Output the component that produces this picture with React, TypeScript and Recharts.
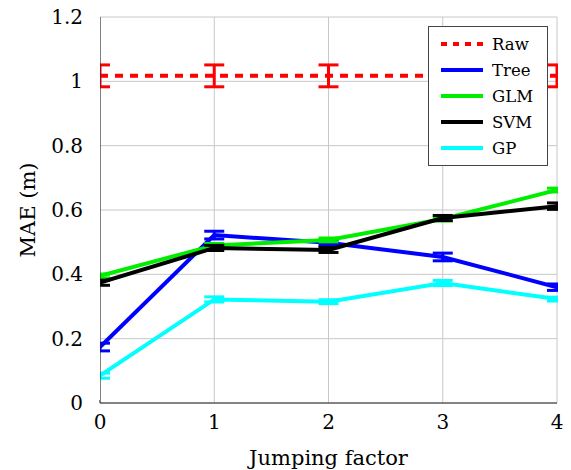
import { LineChart, Line, XAxis, YAxis, CartesianGrid, ErrorBar } from 'recharts'

const jumping = [0, 1, 2, 3, 4]
const raw = [1.017, 1.017, 1.017, 1.017, 1.017]
const rawErr = [0.034, 0.034, 0.034, 0.034, 0.034]
const tree = [0.174, 0.522, 0.498, 0.454, 0.36]
const treeErr = [0.012, 0.012, 0.008, 0.012, 0.01]
const glm = [0.395, 0.49, 0.507, 0.572, 0.662]
const glmErr = [0.006, 0.006, 0.006, 0.006, 0.006]
const svm = [0.374, 0.482, 0.476, 0.575, 0.612]
const svmErr = [0.008, 0.008, 0.008, 0.008, 0.01]
const gp = [0.085, 0.322, 0.315, 0.373, 0.323]
const gpErr = [0.008, 0.008, 0.006, 0.008, 0.006]

const yTicks = [0, 0.2, 0.4, 0.6, 0.8, 1, 1.2]

const data = jumping.map((x, i) => ({
  x,
  raw: raw[i], rawErr: rawErr[i],
  tree: tree[i], treeErr: treeErr[i],
  glm: glm[i], glmErr: glmErr[i],
  svm: svm[i], svmErr: svmErr[i],
  gp: gp[i], gpErr: gpErr[i],
}))

const series = [
  { key: 'raw', name: 'Raw', color: '#ff0000', dash: '8 7' },
  { key: 'tree', name: 'Tree', color: '#0000ff' },
  { key: 'glm', name: 'GLM', color: '#00ee00' },
  { key: 'svm', name: 'SVM', color: '#000000' },
  { key: 'gp', name: 'GP', color: '#00ffff' },
]

const font = 'DejaVu Serif'

// legend sits over the plot, so it is drawn outside recharts' layout
function LegendBox() {
  return (
    <div
      style={{
        position: 'absolute',
        left: 428,
        top: 26,
        border: '1.2px solid #444',
        background: '#fff',
        padding: '4px 8px 4px 11px',
        width: 99,
        fontFamily: font,
        fontSize: 16.5,
      }}
    >
      {series.map((s) => (
        <div key={s.key} style={{ display: 'flex', alignItems: 'center', height: 26 }}>
          <svg width={44} height={10} style={{ marginRight: 8 }}>
            <line x1={1} y1={5} x2={43} y2={5} stroke={s.color} strokeWidth={4} strokeDasharray={s.dash ? '6 6' : undefined} />
          </svg>
          <span>{s.name}</span>
        </div>
      ))}
    </div>
  )
}

// error bar caps at x=0 and x=4 are cut at the plot edge
const edgeMask = { position: 'absolute' as const, top: 0, height: 400, background: '#fff' }

export default function App() {
  return (
    <div style={{ position: 'absolute', left: 0, top: 0, width: 571, height: 470, background: '#fff', fontFamily: font }}>
      <LineChart width={571} height={470} data={data} margin={{ top: 17, right: 14, left: 40, bottom: 37 }} style={{ fontFamily: font }}>
        <CartesianGrid stroke="#c8c8c8" strokeWidth={1} />
        <XAxis
          dataKey="x"
          type="number"
          domain={[0, 4]}
          ticks={jumping}
          allowDataOverflow
          stroke="#222"
          tickLine={false}
          tick={{ fill: '#000', fontSize: 20, fontFamily: font }}
          tickMargin={6}
          height={30}
          label={{ value: 'Jumping factor', position: 'insideBottom', offset: -32, fill: '#000', fontSize: 21, fontFamily: font }}
        />
        <XAxis xAxisId="top" orientation="top" dataKey="x" type="number" domain={[0, 4]} tick={false} tickLine={false} stroke="#222" height={0} />
        <YAxis
          type="number"
          domain={[0, 1.2]}
          ticks={yTicks}
          allowDataOverflow
          stroke="#222"
          tickLine={false}
          tick={{ fill: '#000', fontSize: 20, fontFamily: font }}
          tickMargin={11}
          width={60}
          label={{ value: 'MAE (m)', angle: -90, position: 'insideLeft', offset: -12, fill: '#000', fontSize: 21, fontFamily: font, style: { textAnchor: 'middle' } }}
        />
        <YAxis yAxisId="right" orientation="right" type="number" domain={[0, 1.2]} tick={false} tickLine={false} stroke="#222" width={0} />
        {series.map((s) => (
          <Line
            key={s.key}
            dataKey={s.key}
            name={s.name}
            type="linear"
            stroke={s.color}
            strokeWidth={4}
            strokeDasharray={s.dash}
            dot={false}
            activeDot={false}
            isAnimationActive={false}
          >
            <ErrorBar dataKey={`${s.key}Err`} direction="y" width={10} stroke={s.color} strokeWidth={3} isAnimationActive={false} />
          </Line>
        ))}
      </LineChart>
      <div style={{ ...edgeMask, left: 90, width: 9.5 }} />
      <div style={{ ...edgeMask, left: 557.5, width: 13.5 }} />
      <LegendBox />
    </div>
  )
}
